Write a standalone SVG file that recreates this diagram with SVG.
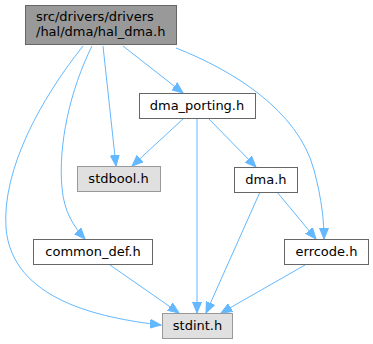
<svg xmlns="http://www.w3.org/2000/svg" width="373" height="344" viewBox="0 0 373 344">
<style>
.n rect{fill:#fff;stroke:#666;stroke-width:1}
.n.root rect{fill:#999}
.n.ext rect{fill:#e0e0e0;stroke:#999}
text{font-family:"DejaVu Sans",sans-serif;font-size:13px;fill:#000;text-anchor:middle}
.e path{fill:none;stroke:#63b8ff;stroke-width:1;marker-end:url(#a)}
</style>
<defs>
<marker id="a" markerUnits="userSpaceOnUse" markerWidth="12" markerHeight="10" refX="11" refY="5" orient="auto">
<path d="M0,0.5 L11,5 L0,9.5 Z" fill="#63b8ff" stroke="#63b8ff" stroke-width="1"/>
</marker>
</defs>
<g class="e">
<path d="M83,46 C40,100 2,170 6,228 C12,300 100,318 161,325"/>
<path d="M92,46 C70,90 58,145 62,188 C64,212 74,227 85,239"/>
<path d="M103,46 L116,166"/>
<path d="M123,46 L183,93"/>
<path d="M176,48 C232,70 298,110 314,170 C322,200 324,222 324,239"/>
<path d="M184,118 L132,166"/>
<path d="M197,118 L197,313"/>
<path d="M208,118 L256,167"/>
<path d="M260,192 L206,313"/>
<path d="M277,192 L316,239"/>
<path d="M110,265 L179,313"/>
<path d="M305,265 L221,313"/>
</g>
<g id="hal_dma" class="n root"><rect x="25.5" y="5.5" width="151" height="39"/><text x="36" y="20.5" style="text-anchor:start">src/drivers/drivers</text><text x="36" y="36" style="text-anchor:start">/hal/dma/hal_dma.h</text></g>
<g id="dma_porting" class="n"><rect x="139.5" y="93.5" width="116" height="25"/><text x="197" y="109.5">dma_porting.h</text></g>
<g id="stdbool" class="n ext"><rect x="77.5" y="166.5" width="83" height="25"/><text x="118.5" y="182.5">stdbool.h</text></g>
<g id="dma" class="n"><rect x="234.5" y="167.5" width="63" height="25"/><text x="266" y="183.5">dma.h</text></g>
<g id="common_def" class="n"><rect x="33.5" y="239.5" width="119" height="25"/><text x="93" y="255.5">common_def.h</text></g>
<g id="errcode" class="n"><rect x="284.5" y="239.5" width="84" height="25"/><text x="326.5" y="255.5">errcode.h</text></g>
<g id="stdint" class="n ext"><rect x="162.5" y="313.5" width="70" height="25"/><text x="197.5" y="329.5">stdint.h</text></g>
</svg>
